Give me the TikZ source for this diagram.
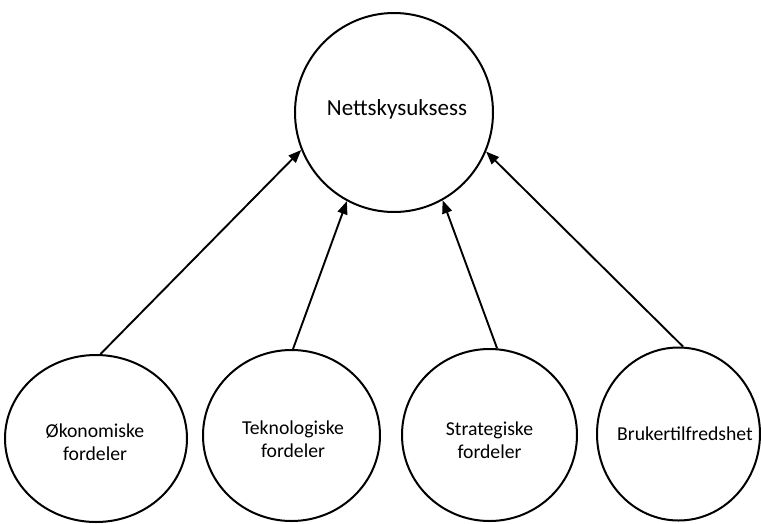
\documentclass[tikz,border=0pt]{standalone}
\usepackage{fontspec}
\setmainfont{Carlito}
\usetikzlibrary{shapes.geometric,arrows.meta}
\begin{document}
\begin{tikzpicture}[x=1pt,y=-1pt,
  bubble/.style={draw=black,line width=2pt,ellipse,inner sep=0pt,fill=none},
  toptxt/.style={inner sep=0pt,font=\fontsize{23}{27}\selectfont,anchor=base},
  lbl/.style={inner sep=0pt,align=center,font=\fontsize{19.7}{23}\selectfont},
  link/.style={line width=1.9pt,-{Triangle[length=13pt,width=10pt]}}]
\useasboundingbox (0,0) rectangle (761,523);
\node[bubble,minimum width=198pt,minimum height=199pt] (top) at (394,112.5) {};
\node[bubble,minimum width=182pt,minimum height=167pt] (b1) at (96,438.5) {};
\node[bubble,minimum width=177pt,minimum height=171pt] (b2) at (291.5,435.5) {};
\node[bubble,minimum width=175pt,minimum height=172pt] (b3) at (489.5,435) {};
\node[bubble,minimum width=163pt,minimum height=173pt] (b4) at (678.5,434) {};
\node[toptxt] (ttop) at (397,115) {Nettskysuksess};
\node[lbl] (t1) at (95,442.7) {Økonomiske\\fordeler};
\node[lbl] (t2) at (293,439.2) {Teknologiske\\fordeler};
\node[lbl] (t3) at (489.5,440.2) {Strategiske\\fordeler};
\node[lbl,anchor=base] (t4) at (685,440) {Brukertilfredshet};
\draw[link] (b1.87) -- (top.202.7);
\draw[link] (b2.89) -- (top.242.8);
\draw[link] (b3.85) -- (top.299.2);
\draw[link] (b4.87) -- (top.337);
\end{tikzpicture}
\end{document}
